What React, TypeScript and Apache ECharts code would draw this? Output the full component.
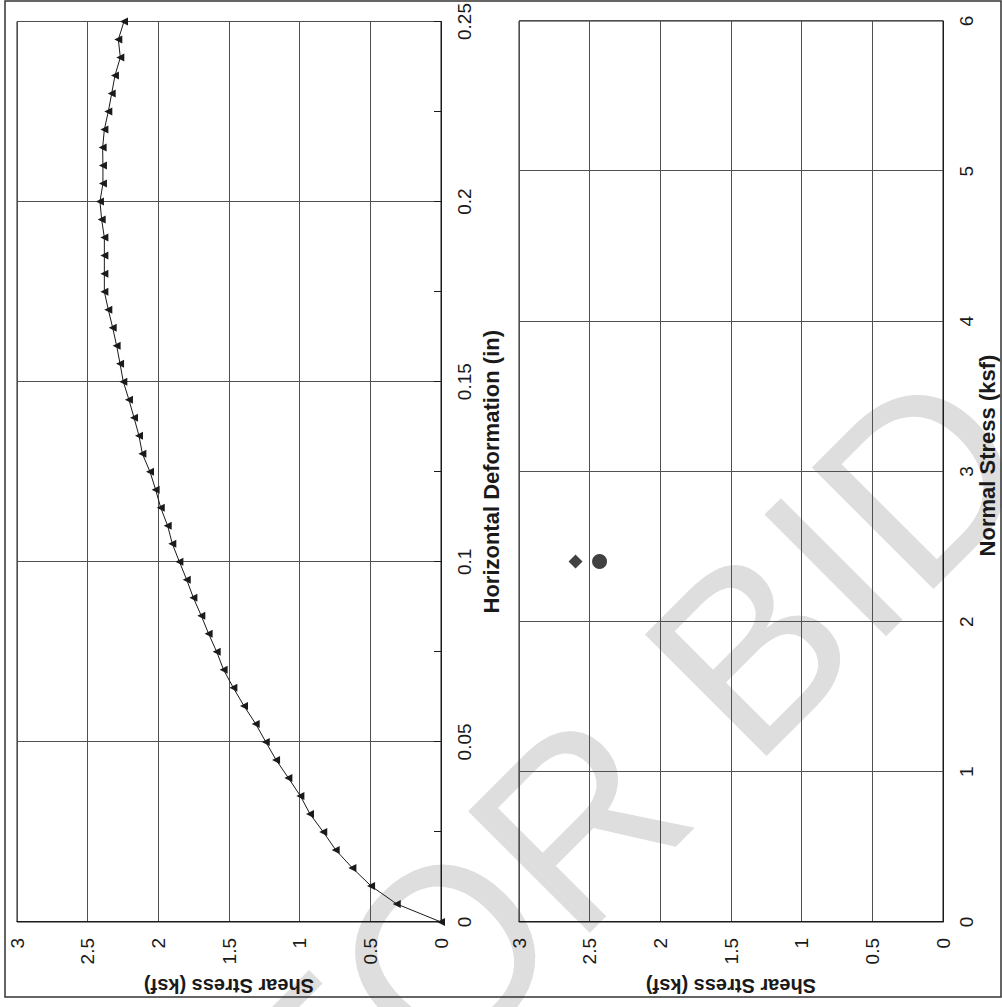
import React, { useEffect, useRef } from "react";
import * as echarts from "echarts";

// Shear test: horizontal deformation (in) vs shear stress (ksf)
const deformation = [
  0, 0.005, 0.01, 0.015, 0.02, 0.025, 0.03, 0.035, 0.04, 0.045,
  0.05, 0.055, 0.06, 0.065, 0.07, 0.075, 0.08, 0.085, 0.09, 0.095,
  0.1, 0.105, 0.11, 0.115, 0.12, 0.125, 0.13, 0.135, 0.14, 0.145,
  0.15, 0.155, 0.16, 0.165, 0.17, 0.175, 0.18, 0.185, 0.19, 0.195,
  0.2, 0.205, 0.21, 0.215, 0.22, 0.225, 0.23, 0.235, 0.24, 0.245, 0.25,
];
const shearStress = [
  0, 0.313, 0.495, 0.627, 0.745, 0.833, 0.927, 0.995, 1.08, 1.167,
  1.24, 1.311, 1.394, 1.469, 1.538, 1.587, 1.644, 1.696, 1.752, 1.799,
  1.851, 1.901, 1.934, 1.983, 2.019, 2.059, 2.113, 2.137, 2.172, 2.208,
  2.248, 2.271, 2.295, 2.323, 2.354, 2.382, 2.382, 2.382, 2.382, 2.401,
  2.413, 2.392, 2.392, 2.394, 2.382, 2.354, 2.33, 2.307, 2.269, 2.283, 2.243,
];

// Failure envelope points: normal stress (ksf) vs shear stress (ksf)
const circleNormal = [2.4];
const circleShear = [2.43];
const diamondNormal = [2.4];
const diamondShear = [2.6];

const FONT = '"Liberation Sans", Arial, Helvetica, sans-serif';
const INK = "#1a1a1a";
const GRIDC = "#505050";

const labelStyle = { fontSize: 19, color: INK, fontFamily: FONT };
const yNameStyle = { fontSize: 20, fontWeight: "bold", color: INK, fontFamily: FONT };

function buildOption() {
  return {
    animation: false,
    backgroundColor: "#ffffff",
    textStyle: { fontFamily: FONT },
    grid: [
      { left: 85, top: 17, width: 901, height: 424, show: true, borderColor: INK, borderWidth: 1, backgroundColor: "transparent" },
      { left: 85, top: 519, width: 901, height: 424, show: true, borderColor: INK, borderWidth: 1, backgroundColor: "transparent" },
    ],
    xAxis: [
      {
        type: "value", gridIndex: 0, min: 0, max: 0.25, interval: 0.05, position: "bottom",
        axisLine: { show: true, onZero: false, lineStyle: { color: INK, width: 1 } },
        axisTick: { show: true, inside: true, length: 7, lineStyle: { color: INK } },
        minorTick: { show: true, splitNumber: 2, length: 7, lineStyle: { color: INK } },
        splitLine: { show: true, lineStyle: { color: GRIDC, width: 1 } },
        axisLabel: { ...labelStyle, margin: 14 },
        name: "Horizontal Deformation (in)", nameLocation: "middle", nameGap: 39,
        nameTextStyle: { fontSize: 22, fontWeight: "bold", color: INK, fontFamily: FONT },
      },
      {
        type: "value", gridIndex: 1, min: 0, max: 6, interval: 1, position: "bottom",
        axisLine: { show: true, onZero: false, lineStyle: { color: INK, width: 1 } },
        axisTick: { show: false },
        splitLine: { show: true, lineStyle: { color: GRIDC, width: 1 } },
        axisLabel: { ...labelStyle, margin: 14 },
        name: "Normal Stress (ksf)", nameLocation: "middle", nameGap: 33,
        nameTextStyle: { fontSize: 22, fontWeight: "bold", color: INK, fontFamily: FONT, padding: [0, 0, 0, 32] },
      },
    ],
    yAxis: [
      {
        type: "value", gridIndex: 0, min: 0, max: 3, interval: 0.5, position: "left",
        axisLine: { show: true, onZero: false, lineStyle: { color: INK, width: 1 } },
        axisTick: { show: false },
        splitLine: { show: true, lineStyle: { color: GRIDC, width: 1 } },
        axisLabel: { ...labelStyle, margin: 16 },
        name: "Shear Stress (ksf)", nameLocation: "middle", nameGap: 54, nameTextStyle: yNameStyle,
      },
      {
        type: "value", gridIndex: 1, min: 0, max: 3, interval: 0.5, position: "left",
        axisLine: { show: true, onZero: false, lineStyle: { color: INK, width: 1 } },
        axisTick: { show: false },
        splitLine: { show: true, lineStyle: { color: GRIDC, width: 1 } },
        axisLabel: { ...labelStyle, margin: 16 },
        name: "Shear Stress (ksf)", nameLocation: "middle", nameGap: 54, nameTextStyle: yNameStyle,
      },
    ],
    graphic: [
      {
        type: "text", x: 234, y: 627, rotation: -Math.PI / 4, z: -10, silent: true,
        style: {
          text: "FOR BID", fontSize: 250, fontFamily: FONT, fill: "#dedede",
          align: "center", verticalAlign: "middle", textAlign: "center", textVerticalAlign: "middle",
        },
      },
      {
        type: "rect", z: 100, silent: true,
        shape: { x: 10, y: 5, width: 996, height: 996 },
        style: { fill: "none", stroke: "#333", lineWidth: 1.5 },
      },
    ],
    series: [
      {
        type: "line", xAxisIndex: 0, yAxisIndex: 0,
        data: deformation.map((d, i) => [d, shearStress[i]]),
        symbol: "triangle", symbolSize: 8, showSymbol: true, showAllSymbol: true, clip: false,
        lineStyle: { color: INK, width: 1 }, itemStyle: { color: INK },
      },
      {
        type: "scatter", xAxisIndex: 1, yAxisIndex: 1,
        data: circleNormal.map((n, i) => [n, circleShear[i]]),
        symbol: "circle", symbolSize: 15, itemStyle: { color: "#111" },
      },
      {
        type: "scatter", xAxisIndex: 1, yAxisIndex: 1,
        data: diamondNormal.map((n, i) => [n, diamondShear[i]]),
        symbol: "diamond", symbolSize: 14, itemStyle: { color: "#111" },
      },
    ],
  };
}

export default function App() {
  const ref = useRef<HTMLDivElement>(null);
  useEffect(() => {
    if (!ref.current) return;
    const chart = echarts.init(ref.current, null, { renderer: "svg" });
    chart.setOption(buildOption() as any);
    return () => chart.dispose();
  }, []);
  return (
    <div style={{ position: "fixed", left: 0, top: 0, width: 1002, height: 1007, overflow: "hidden", background: "#fff" }}>
      <div
        ref={ref}
        style={{
          position: "absolute", left: 0, top: 0, width: 1007, height: 1002,
          transformOrigin: "0 0", transform: "translateY(1007px) rotate(-90deg)",
        }}
      />
    </div>
  );
}
